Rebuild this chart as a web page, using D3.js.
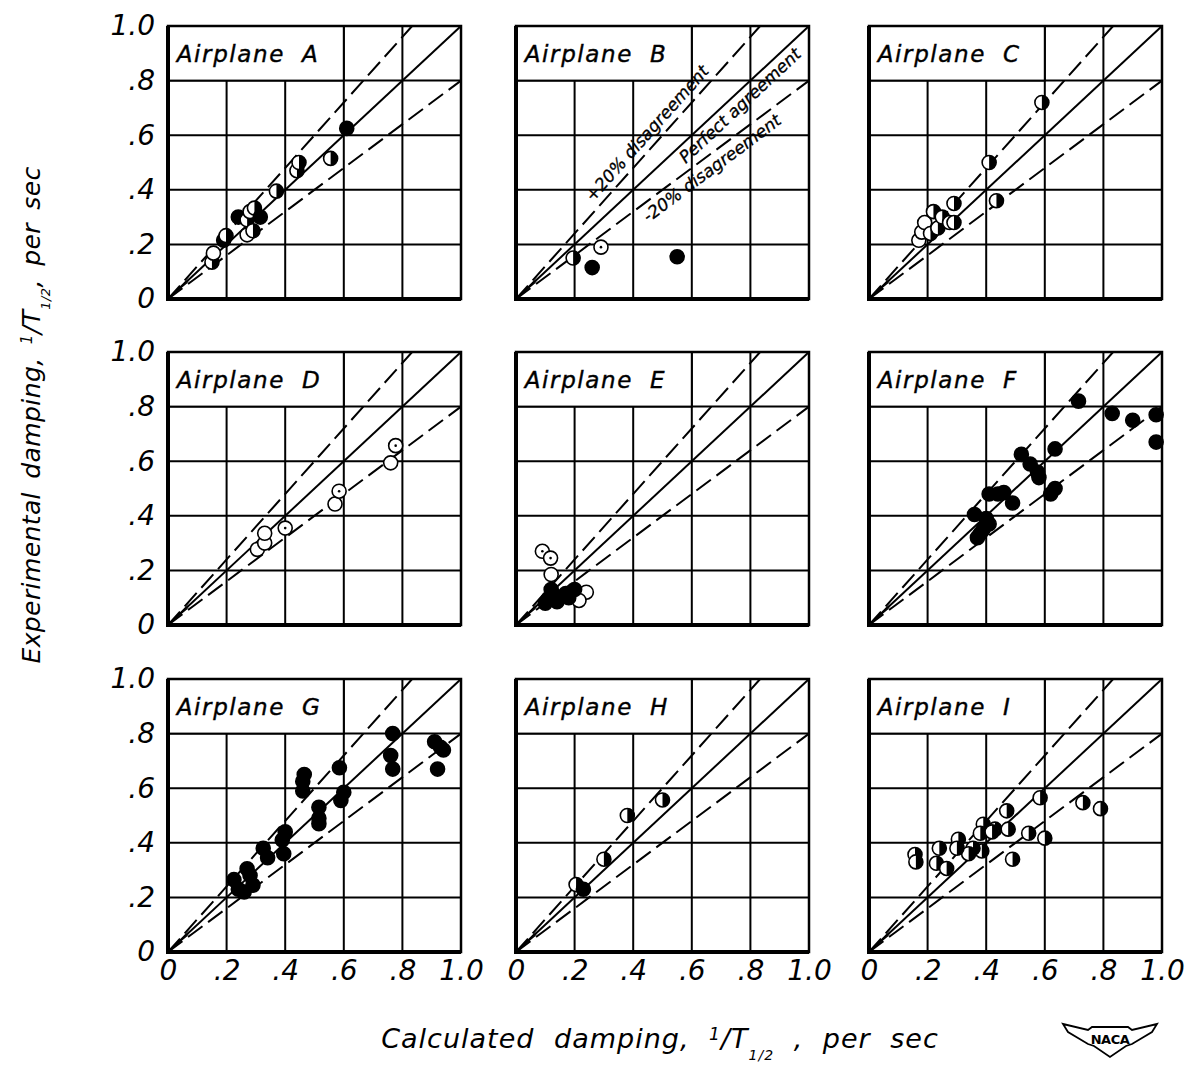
<!DOCTYPE html>
<html><head><meta charset="utf-8">
<script src="https://cdn.jsdelivr.net/npm/d3@7"></script>
<style>body{margin:0;background:#fff}svg{display:block}</style>
</head><body>
<svg id="chart" width="1187" height="1078"></svg>
<script>
// ---------- data ----------
const panels = ["A","B","C","D","E","F","G","H","I"];
const tickValues = [0, 0.2, 0.4, 0.6, 0.8, 1.0];
const tickLabels = ["0", ".2", ".4", ".6", ".8", "1.0"];
const agreementFactors = [1.2, 1.0, 0.8]; // +20%, perfect, -20%
// point types: o open, d open with dot, f filled, h half filled
const pointsA = [[0.15,0.135,"h"],[0.155,0.168,"o"],[0.19,0.215,"f"],[0.198,0.232,"h"],[0.24,0.30,"f"],[0.27,0.29,"h"],[0.28,0.32,"o"],[0.295,0.333,"h"],[0.315,0.30,"f"],[0.27,0.235,"o"],[0.29,0.25,"h"],[0.37,0.395,"h"],[0.44,0.47,"h"],[0.447,0.50,"h"],[0.555,0.515,"h"],[0.61,0.625,"f"]];
const pointsB = [[0.195,0.15,"h"],[0.29,0.19,"d"],[0.26,0.115,"f"],[0.55,0.155,"f"]];
const pointsC = [[0.17,0.215,"o"],[0.18,0.245,"o"],[0.19,0.28,"o"],[0.21,0.24,"h"],[0.22,0.32,"h"],[0.235,0.26,"h"],[0.25,0.30,"h"],[0.275,0.28,"h"],[0.29,0.35,"h"],[0.29,0.28,"h"],[0.41,0.50,"h"],[0.435,0.36,"h"],[0.59,0.72,"h"]];
const pointsD = [[0.305,0.277,"o"],[0.33,0.30,"o"],[0.33,0.336,"o"],[0.40,0.355,"d"],[0.57,0.443,"o"],[0.584,0.49,"d"],[0.76,0.594,"o"],[0.777,0.657,"d"]];
const pointsE = [[0.09,0.27,"d"],[0.118,0.245,"d"],[0.12,0.185,"o"],[0.24,0.12,"o"],[0.215,0.09,"o"],[0.12,0.13,"f"],[0.11,0.095,"f"],[0.14,0.085,"f"],[0.17,0.115,"f"],[0.20,0.13,"f"],[0.18,0.10,"f"],[0.13,0.11,"f"],[0.10,0.08,"f"]];
const pointsF = [[0.715,0.82,"f"],[0.83,0.775,"f"],[0.90,0.75,"f"],[0.98,0.77,"f"],[0.98,0.67,"f"],[0.635,0.645,"f"],[0.52,0.625,"f"],[0.55,0.59,"f"],[0.575,0.56,"f"],[0.58,0.54,"f"],[0.635,0.50,"f"],[0.62,0.48,"f"],[0.41,0.48,"f"],[0.46,0.485,"f"],[0.49,0.447,"f"],[0.36,0.405,"f"],[0.40,0.39,"f"],[0.41,0.37,"f"],[0.38,0.335,"f"],[0.37,0.32,"f"],[0.39,0.35,"f"],[0.44,0.48,"f"]];
const pointsG = [[0.767,0.80,"f"],[0.76,0.72,"f"],[0.767,0.67,"f"],[0.585,0.675,"f"],[0.465,0.65,"f"],[0.46,0.625,"f"],[0.46,0.59,"f"],[0.60,0.585,"f"],[0.59,0.555,"f"],[0.515,0.53,"f"],[0.515,0.49,"f"],[0.515,0.47,"f"],[0.40,0.44,"f"],[0.39,0.41,"f"],[0.395,0.36,"f"],[0.325,0.38,"f"],[0.34,0.345,"f"],[0.27,0.305,"f"],[0.28,0.28,"f"],[0.29,0.245,"f"],[0.225,0.265,"f"],[0.24,0.23,"f"],[0.26,0.22,"f"],[0.91,0.77,"f"],[0.93,0.75,"f"],[0.92,0.67,"f"],[0.94,0.74,"f"]];
const pointsH = [[0.205,0.247,"h"],[0.23,0.23,"f"],[0.30,0.34,"h"],[0.38,0.50,"h"],[0.50,0.557,"h"]];
const pointsI = [[0.584,0.565,"h"],[0.73,0.547,"h"],[0.79,0.525,"h"],[0.47,0.517,"h"],[0.39,0.468,"h"],[0.38,0.435,"h"],[0.43,0.45,"h"],[0.475,0.45,"h"],[0.545,0.435,"h"],[0.60,0.417,"h"],[0.49,0.34,"h"],[0.385,0.37,"h"],[0.355,0.38,"h"],[0.34,0.36,"h"],[0.305,0.413,"h"],[0.30,0.38,"h"],[0.24,0.38,"h"],[0.23,0.325,"h"],[0.265,0.306,"h"],[0.157,0.357,"h"],[0.16,0.33,"h"],[0.42,0.44,"h"]];
const panelPoints = [pointsA,pointsB,pointsC,pointsD,pointsE,pointsF,pointsG,pointsH,pointsI];
const lineNotes = [
  {text:"+20% disagreement", factor:1.2, at:0.28, off:-7},
  {text:"Perfect agreement", factor:1.0, at:0.54, off:17},
  {text:"-20% disagreement", factor:0.8, at:0.415, off:18}
];

// ---------- layout ----------
const colX = [168, 516, 869];
const rowY = [26, 352, 679];
const W = 293, H = 273;
const FONT = "'DejaVu Sans', sans-serif";
const svg = d3.select("#chart");

panels.forEach((name, i) => {
  const col = i % 3, row = Math.floor(i / 3);
  const g = svg.append("g").attr("transform", `translate(${colX[col]},${rowY[row]})`);
  const x = d3.scaleLinear().domain([0, 1]).range([0, W]);
  const y = d3.scaleLinear().domain([0, 1]).range([H, 0]);

  // grid
  g.selectAll(".vg").data(tickValues.slice(1, 5)).join("line")
    .attr("x1", d => x(d)).attr("x2", d => x(d)).attr("y1", y(0)).attr("y2", y(1))
    .attr("stroke", "#000").attr("stroke-width", 2);
  g.selectAll(".hg").data(tickValues.slice(1, 5)).join("line")
    .attr("y1", d => y(d)).attr("y2", d => y(d)).attr("x1", x(0)).attr("x2", x(1))
    .attr("stroke", "#000").attr("stroke-width", 2);

  // label box
  g.append("rect").attr("x", x(0)).attr("y", y(1)).attr("width", x(0.6) - x(0)).attr("height", y(0.8) - y(1))
    .attr("fill", "#fff").attr("stroke", "#000").attr("stroke-width", 2);
  g.append("text").attr("x", x(0.03)).attr("y", y(0.9) + 9)
    .attr("font-family", FONT).attr("font-style", "italic").attr("font-size", 23)
    .attr("letter-spacing", 1.6).attr("word-spacing", 8)
    .attr("stroke", "#000").attr("stroke-width", 0.4)
    .text("Airplane " + name);

  // agreement lines
  agreementFactors.forEach(k => {
    const xe = Math.min(1, 1 / k);
    g.append("line").attr("x1", x(0)).attr("y1", y(0)).attr("x2", x(xe)).attr("y2", y(xe * k))
      .attr("stroke", "#000").attr("stroke-width", 2)
      .attr("stroke-dasharray", k === 1 ? null : "18,7");
  });
  // arrow wedge at origin
  g.append("path")
    .attr("d", `M${x(0)},${y(0)}L${x(0.075)},${y(0.075*1.12)}L${x(0.055)},${y(0.055)}L${x(0.075)},${y(0.075*0.88)}Z`)
    .attr("fill", "#000");

  // line annotations (panel B)
  if (name === "B") {
    lineNotes.forEach(n => {
      const ang = Math.atan2(y(n.factor) - y(0), x(1) - x(0)) * 180 / Math.PI;
      g.append("text")
        .attr("transform", `translate(${x(n.at)},${y(n.at * n.factor)}) rotate(${ang}) translate(0,${n.off})`)
        .attr("font-family", FONT).attr("font-style", "italic").attr("font-size", 17)
        .attr("fill", "#000").attr("stroke", "#000").attr("stroke-width", 0.3)
        .text(n.text);
    });
  }

  // points
  const r = 7;
  const pts = g.selectAll(".pt").data(panelPoints[i]).join("g")
    .attr("transform", d => `translate(${x(d[0])},${y(d[1])})`);
  pts.append("circle").attr("r", r)
    .attr("fill", d => d[2] === "f" ? "#000" : "#fff")
    .attr("stroke", "#000").attr("stroke-width", 1.6);
  pts.filter(d => d[2] === "h").append("path")
    .attr("d", `M0,${-r}A${r},${r} 0 0 1 0,${r}Z`).attr("fill", "#000");
  pts.filter(d => d[2] === "d").append("circle").attr("r", 1.3).attr("fill", "#000");

  // frame
  g.append("rect").attr("x", 0).attr("y", 0).attr("width", W).attr("height", H)
    .attr("fill", "none").attr("stroke", "#000").attr("stroke-width", 2.5);
  g.append("path").attr("d", `M0,0V${H}H${W}`).attr("fill", "none").attr("stroke", "#000").attr("stroke-width", 4);

  // axes labels
  const fmt = (d) => tickLabels[tickValues.indexOf(d)];
  if (col === 0) {
    const ax = g.append("g").call(d3.axisLeft(y).tickValues(tickValues).tickFormat(fmt).tickSize(0).tickPadding(13));
    ax.select(".domain").remove();
    ax.selectAll("text").attr("font-family", FONT).attr("font-style", "italic").attr("font-size", 28).attr("fill", "#000");
  }
  if (row === 2) {
    const ax = g.append("g").attr("transform", `translate(0,${H})`)
      .call(d3.axisBottom(x).tickValues(tickValues).tickFormat(fmt).tickSize(0).tickPadding(8));
    ax.select(".domain").remove();
    ax.selectAll("text").attr("font-family", FONT).attr("font-style", "italic").attr("font-size", 28).attr("fill", "#000");
  }
});

// axis titles
const xt = svg.append("text").attr("x", 660).attr("y", 1048).attr("text-anchor", "middle")
  .attr("font-family", FONT).attr("font-style", "italic").attr("font-size", 27).attr("word-spacing", 10).attr("letter-spacing", 1);
xt.append("tspan").text("Calculated damping, ");
xt.append("tspan").attr("font-size", 17).attr("dy", -8).text("1");
xt.append("tspan").attr("dy", 8).text("/T");
xt.append("tspan").attr("font-size", 14).attr("dy", 12).text("1/2");
xt.append("tspan").attr("dy", -12).text(" , per sec");

const yt = svg.append("text").attr("transform", "translate(40,415) rotate(-90)").attr("text-anchor", "middle")
  .attr("font-family", FONT).attr("font-style", "italic").attr("font-size", 25).attr("word-spacing", 5).attr("letter-spacing", 0.4);
yt.append("tspan").text("Experimental damping, ");
yt.append("tspan").attr("font-size", 15).attr("dy", -8).text("1");
yt.append("tspan").attr("dy", 8).text("/T");
yt.append("tspan").attr("font-size", 13).attr("dy", 10).text("1/2");
yt.append("tspan").attr("dy", -10).text(", per sec");

// NACA logo
const logo = svg.append("g").attr("transform", "translate(1110,1040)");
logo.append("path")
  .attr("d", "M-47,-16 L-22,-10 L-18,-13 L18,-13 L22,-10 L47,-16 L42,-8 L32,-2 L22,4 L16,6 L0,17 L-16,6 L-22,4 L-32,-2 L-42,-8 Z")
  .attr("fill", "#fff").attr("stroke", "#000").attr("stroke-width", 1.8);
logo.append("text").attr("x", 0).attr("y", 4).attr("text-anchor", "middle")
  .attr("font-family", FONT).attr("font-size", 13).attr("font-weight", "bold").attr("letter-spacing", -0.5).text("NACA");
</script>
</body></html>
